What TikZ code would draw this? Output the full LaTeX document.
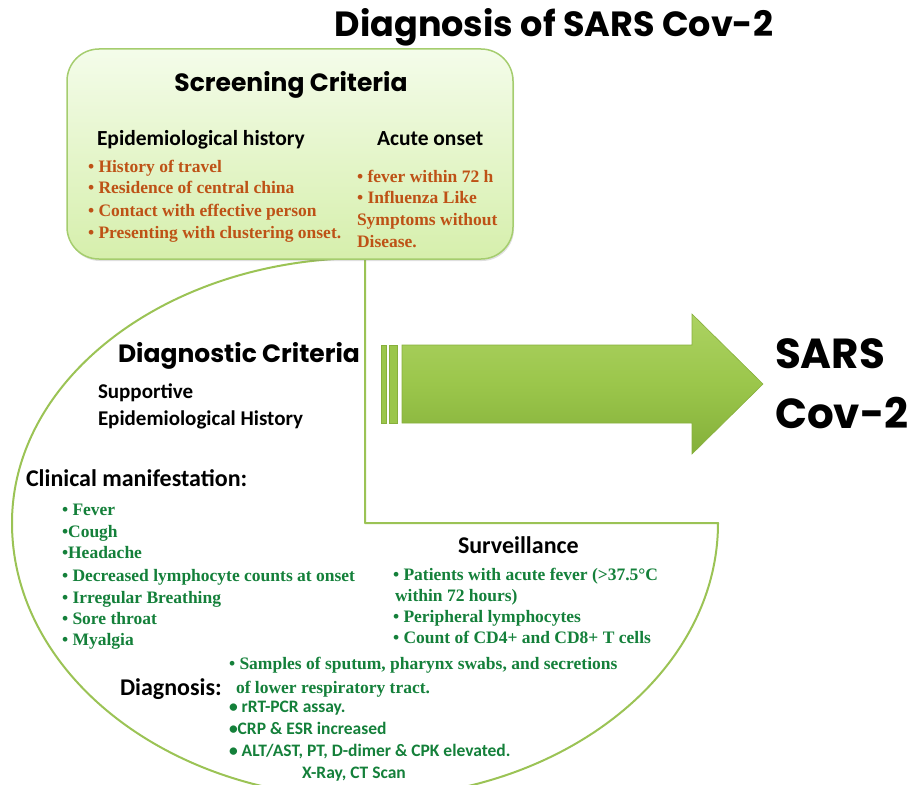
\documentclass[tikz,border=0pt]{standalone}
\usepackage{fontspec}
\setmainfont{Liberation Serif}
\newfontfamily\gothic{Poppins}
\newfontfamily\calib{Carlito}
\usetikzlibrary{shadows}
\definecolor{lineGreen}{RGB}{155,195,85}
\definecolor{boxEdge}{RGB}{165,205,110}
\definecolor{boxTop}{RGB}{244,252,234}
\definecolor{boxBot}{RGB}{214,239,172}
\definecolor{orangeT}{RGB}{190,82,22}
\definecolor{greenT}{RGB}{20,128,58}
\definecolor{arrTop}{RGB}{172,210,98}
\definecolor{arrMid}{RGB}{155,198,75}
\definecolor{arrBot}{RGB}{132,176,58}
\definecolor{arrEdge}{RGB}{135,175,60}
\begin{document}
\begin{tikzpicture}[x=1pt,y=-1pt,
  every node/.style={inner sep=0pt, outer sep=0pt},
  titletext/.style={font=\gothic\bfseries\fontsize{35}{40}\selectfont, anchor=base},
  heading/.style={font=\gothic\bfseries\fontsize{25}{30}\selectfont},
  subhead/.style={font=\calib\bfseries\fontsize{21.5}{24}\selectfont, anchor=base west},
  bighead/.style={font=\calib\bfseries\fontsize{24}{28}\selectfont, anchor=base west},
  orng/.style={font=\bfseries\fontsize{17.5}{20}\selectfont, text=orangeT, anchor=base west},
  grn/.style={font=\bfseries\fontsize{17.5}{20}\selectfont, text=greenT, anchor=base west},
  grnsans/.style={font=\calib\bfseries\fontsize{17.5}{20}\selectfont, text=greenT, anchor=base west},
  bigsars/.style={font=\gothic\bfseries\fontsize{42}{50}\selectfont, anchor=base west},
  outline/.style={draw=lineGreen, line width=2pt, line join=round},
  arrowbody/.style={draw=arrEdge, line width=0.6pt, top color=arrTop, bottom color=arrBot, middle color=arrMid},
  stripe/.style={draw=arrEdge, line width=0.6pt, fill=arrMid},
]
\path[use as bounding box] (0,0) rectangle (915,784);

% big three-quarter oval
\draw[outline] (365,258) -- (365,523) -- (718,523)
  arc[start angle=0, end angle=180, x radius=353, y radius=275]
  arc[start angle=180, end angle=270, x radius=353, y radius=265];

% screening box
\node[draw=boxEdge, line width=1.5pt, rounded corners=32pt, top color=boxTop, bottom color=boxBot,
      minimum width=446pt, minimum height=210pt,
      drop shadow={opacity=0.25, shadow xshift=1pt, shadow yshift=-2pt}] (screen) at (290,154) {};

% arrow
\path[arrowbody] (402,345) -- (692,345) -- (692,314) -- (763,384) -- (692,454) -- (692,423) -- (402,423) -- cycle;
\path[stripe] (381,345) rectangle (386,423);
\path[stripe] (389,345) rectangle (397,423);

% title
\node[titletext] (title) at (554,37) {Diagnosis of SARS Cov-2};

% screening texts
\node[heading, anchor=base] (scrhead) at (291,92) {Screening Criteria};
\node[subhead] (epihead) at (97,145) {Epidemiological history};
\node[subhead] (acutehead) at (377,145) {Acute onset};
\node[orng] (o1) at (88,172) {• History of travel};
\node[orng] (o2) at (88,193) {• Residence of central china};
\node[orng] (o3) at (88,216) {• Contact with effective person};
\node[orng] (o4) at (88,238) {• Presenting with clustering onset.};
\node[orng] (a1) at (357,182) {• fever within 72 h};
\node[orng] (a2) at (357,203) {• Influenza Like};
\node[orng] (a3) at (357,225) {Symptoms without};
\node[orng] (a4) at (357,247) {Disease.};

% diagnostic criteria
\node[heading, anchor=base west] (diaghead) at (118,362) {Diagnostic Criteria};
\node[subhead, font=\calib\bfseries\fontsize{21}{24}\selectfont] (sup1) at (98,398) {Supportive};
\node[subhead, font=\calib\bfseries\fontsize{21}{24}\selectfont] (sup2) at (98,425) {Epidemiological History};
\node[bighead] (clin) at (26,486) {Clinical manifestation:};
\node[grn] (c1) at (62,515) {• Fever};
\node[grn] (c2) at (62,537) {•Cough};
\node[grn] (c3) at (62,558) {•Headache};
\node[grn] (c4) at (62,581) {• Decreased lymphocyte counts at onset};
\node[grn] (c5) at (62,603) {• Irregular Breathing};
\node[grn] (c6) at (62,624) {• Sore throat};
\node[grn] (c7) at (62,645) {• Myalgia};

% surveillance
\node[bighead] (surv) at (458,553) {Surveillance};
\node[grn] (s1) at (393,580) {• Patients with acute fever (>37.5°C};
\node[grn] (s2) at (395,601) {within 72 hours)};
\node[grn] (s3) at (393,622) {• Peripheral lymphocytes};
\node[grn] (s4) at (393,643) {• Count of CD4+ and CD8+ T cells};

% diagnosis
\node[bighead] (diagn) at (120,695) {Diagnosis:};
\node[grn] (d1) at (229,669) {• Samples of sputum, pharynx swabs, and secretions};
\node[grn] (d2) at (236,693) {of lower respiratory tract.};
\node[grnsans] (d3) at (229,712) {• rRT-PCR assay.};
\node[grnsans] (d4) at (229,734) {•CRP \& ESR increased};
\node[grnsans] (d5) at (229,756) {• ALT/AST, PT, D-dimer \& CPK elevated.};
\node[grnsans] (d6) at (302,778) {X-Ray, CT Scan};

% result
\node[bigsars] (sars) at (775,368) {SARS};
\node[bigsars] (cov) at (775,428) {Cov-2};
\end{tikzpicture}
\end{document}
